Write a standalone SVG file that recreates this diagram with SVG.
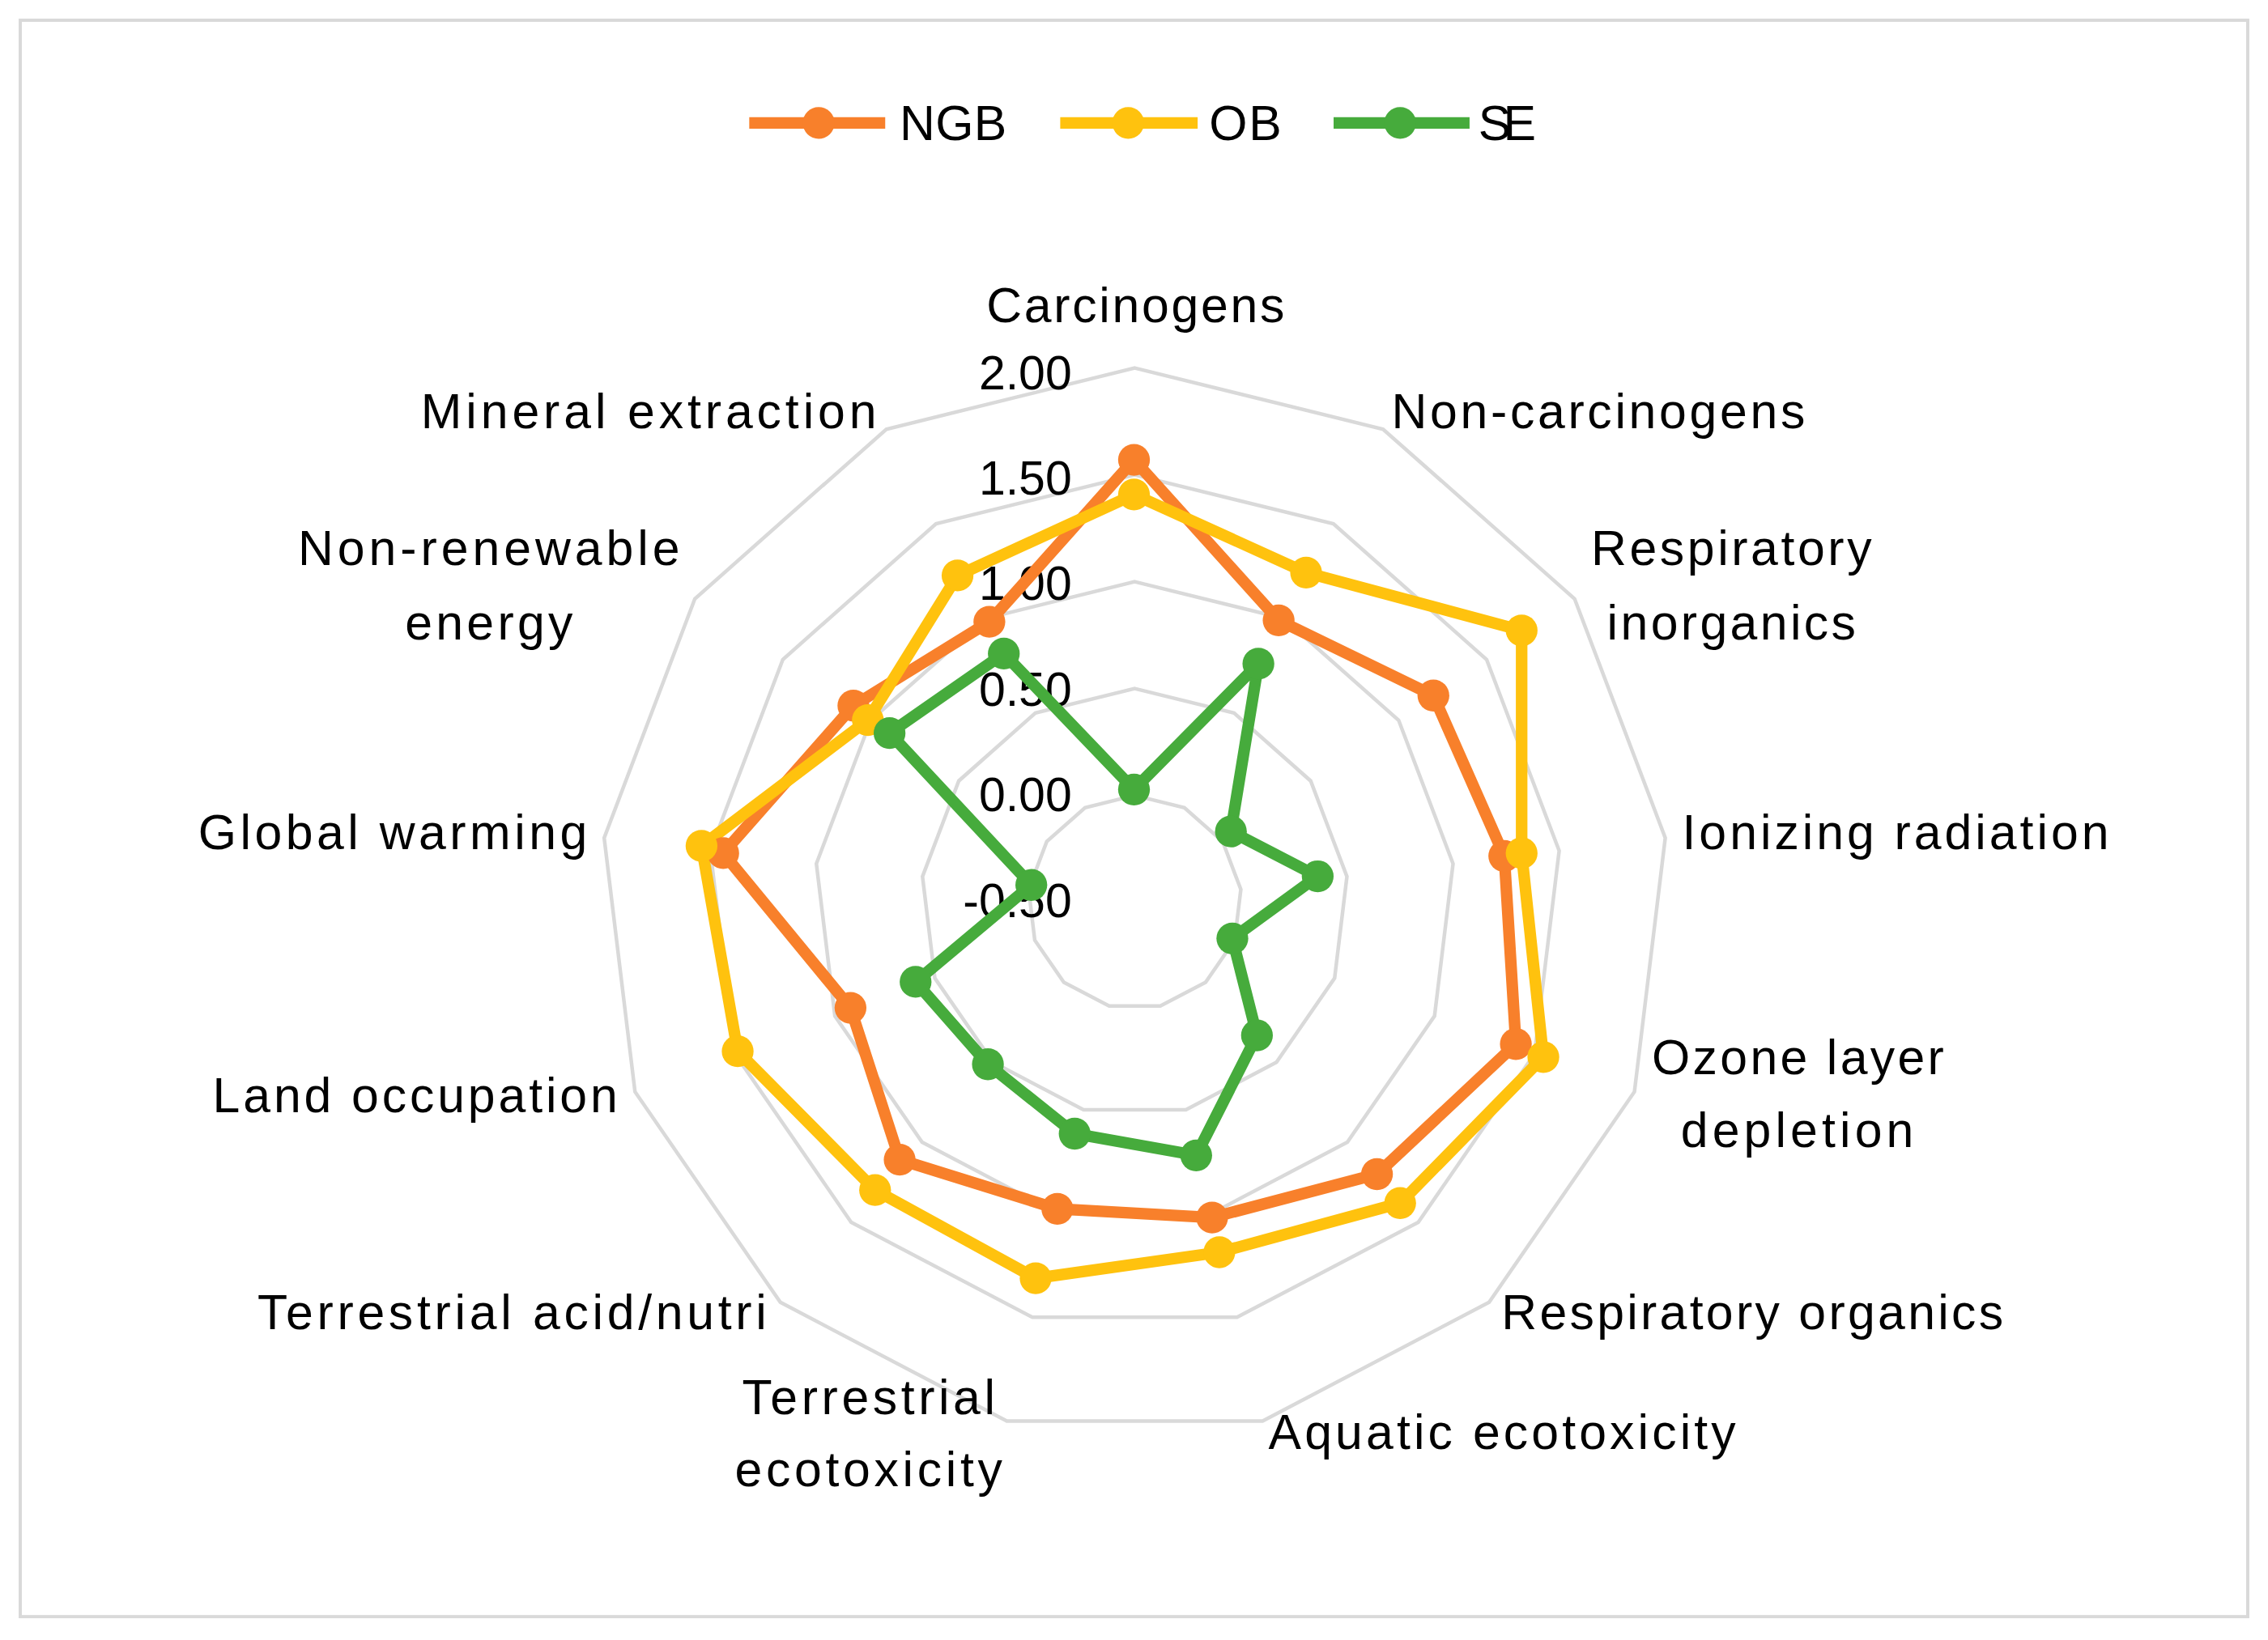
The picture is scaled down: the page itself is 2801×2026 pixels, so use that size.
<svg xmlns="http://www.w3.org/2000/svg" width="2801" height="2026" viewBox="0 0 2801 2026">
<style>
.ring{fill:none;stroke:#d9d9d9;stroke-width:4.5;stroke-linejoin:miter}
.lbl{font-family:"Liberation Sans",Arial,sans-serif;font-size:34px;fill:#000}
.ax{font-family:"Liberation Sans",Arial,sans-serif;font-size:33px;fill:#000;text-anchor:end}
.s{fill:none;stroke-width:8;stroke-linejoin:round}
.ngb{stroke:#F8802B}.ob{stroke:#FFC20E}.se{stroke:#46AB3C}
.mngb{fill:#F8802B}.mob{fill:#FFC20E}.mse{fill:#46AB3C}
</style>
<rect x="0" y="0" width="2801" height="2026" fill="#fff"/>
<g transform="scale(1.78635)">
<rect x="14" y="14" width="1540" height="1104" fill="none" stroke="#d9d9d9" stroke-width="2.2"/>
<g id="grid" transform="translate(784.5,624)">
<g class="ring">
<polygon vector-effect="non-scaling-stroke" transform="scale(3.695)" points="0,-100 46.47,-88.55 82.30,-56.81 99.27,-12.05 93.50,35.46 66.31,74.85 23.93,97.09 -23.93,97.09 -66.31,74.85 -93.50,35.46 -99.27,-12.05 -82.30,-56.81 -46.47,-88.55"/>
<polygon vector-effect="non-scaling-stroke" transform="scale(2.956)" points="0,-100 46.47,-88.55 82.30,-56.81 99.27,-12.05 93.50,35.46 66.31,74.85 23.93,97.09 -23.93,97.09 -66.31,74.85 -93.50,35.46 -99.27,-12.05 -82.30,-56.81 -46.47,-88.55"/>
<polygon vector-effect="non-scaling-stroke" transform="scale(2.217)" points="0,-100 46.47,-88.55 82.30,-56.81 99.27,-12.05 93.50,35.46 66.31,74.85 23.93,97.09 -23.93,97.09 -66.31,74.85 -93.50,35.46 -99.27,-12.05 -82.30,-56.81 -46.47,-88.55"/>
<polygon vector-effect="non-scaling-stroke" transform="scale(1.478)" points="0,-100 46.47,-88.55 82.30,-56.81 99.27,-12.05 93.50,35.46 66.31,74.85 23.93,97.09 -23.93,97.09 -66.31,74.85 -93.50,35.46 -99.27,-12.05 -82.30,-56.81 -46.47,-88.55"/>
<polygon vector-effect="non-scaling-stroke" transform="scale(0.739)" points="0,-100 46.47,-88.55 82.30,-56.81 99.27,-12.05 93.50,35.46 66.31,74.85 23.93,97.09 -23.93,97.09 -66.31,74.85 -93.50,35.46 -99.27,-12.05 -82.30,-56.81 -46.47,-88.55"/>
</g>
</g>
<g id="axis-labels">
<text class="ax" x="741" y="269">2.00</text>
<text class="ax" x="741" y="342">1.50</text>
<text class="ax" x="741" y="415">1.00</text>
<text class="ax" x="741" y="488">0.50</text>
<text class="ax" x="741" y="561">0.00</text>
<text class="ax" x="741" y="634">-0.50</text>
</g>
<g id="categories" class="lbl">
<text x="682" y="223" textLength="206">Carcinogens</text>
<text x="962" y="296" textLength="286">Non-carcinogens</text>
<text x="1100" y="391" textLength="194">Respiratory</text>
<text x="1111" y="442" textLength="172">inorganics</text>
<text x="1163" y="587" textLength="295">Ionizing radiation</text>
<text x="1142" y="743" textLength="202">Ozone layer</text>
<text x="1162" y="793" textLength="161">depletion</text>
<text x="1038" y="919" textLength="347">Respiratory organics</text>
<text x="877" y="1002" textLength="323">Aquatic ecotoxicity</text>
<text x="513" y="978" textLength="175">Terrestrial</text>
<text x="508" y="1028" textLength="185">ecotoxicity</text>
<text x="178" y="919" textLength="352">Terrestrial acid/nutri</text>
<text x="147" y="769" textLength="280">Land occupation</text>
<text x="137" y="587" textLength="269">Global warming</text>
<text x="206" y="391" textLength="264">Non-renewable</text>
<text x="280" y="442" textLength="116">energy</text>
<text x="291" y="296" textLength="315">Mineral extraction</text>
</g>
<g id="connectors">
<polygon class="s ngb" points="784,318 884,429 991,481 1040,592 1048,722 952,812 838,842 731,836 622,802 588,697 500,590 590,488 684,430"/>
<polygon class="s ob" points="784,342 903,396 1052,436 1052,590 1067,731 968,832 843,866 716,884 605,823 510,727 485,585 600,498 662,398"/>
<polygon class="s se" points="784,546 870,459 851,575 911,606 852,649 869,716 827,799 743,784 683,736 633,679 713,612 615,507 694,452"/>
</g>
<g id="NGB" class="mngb">
<circle cx="784" cy="318" r="11"/><circle cx="884" cy="429" r="11"/><circle cx="991" cy="481" r="11"/><circle cx="1040" cy="592" r="11"/><circle cx="1048" cy="722" r="11"/><circle cx="952" cy="812" r="11"/><circle cx="838" cy="842" r="11"/><circle cx="731" cy="836" r="11"/><circle cx="622" cy="802" r="11"/><circle cx="588" cy="697" r="11"/><circle cx="500" cy="590" r="11"/><circle cx="590" cy="488" r="11"/><circle cx="684" cy="430" r="11"/>
</g>
<g id="OB" class="mob">
<circle cx="784" cy="342" r="11"/><circle cx="903" cy="396" r="11"/><circle cx="1052" cy="436" r="11"/><circle cx="1052" cy="590" r="11"/><circle cx="1067" cy="731" r="11"/><circle cx="968" cy="832" r="11"/><circle cx="843" cy="866" r="11"/><circle cx="716" cy="884" r="11"/><circle cx="605" cy="823" r="11"/><circle cx="510" cy="727" r="11"/><circle cx="485" cy="585" r="11"/><circle cx="600" cy="498" r="11"/><circle cx="662" cy="398" r="11"/>
</g>
<g id="SE" class="mse">
<circle cx="784" cy="546" r="11"/><circle cx="870" cy="459" r="11"/><circle cx="851" cy="575" r="11"/><circle cx="911" cy="606" r="11"/><circle cx="852" cy="649" r="11"/><circle cx="869" cy="716" r="11"/><circle cx="827" cy="799" r="11"/><circle cx="743" cy="784" r="11"/><circle cx="683" cy="736" r="11"/><circle cx="633" cy="679" r="11"/><circle cx="713" cy="612" r="11"/><circle cx="615" cy="507" r="11"/><circle cx="694" cy="452" r="11"/>
</g>
<g id="legend">
<line x1="518" y1="85" x2="612" y2="85" class="s ngb"/><circle cx="566" cy="85" r="11" class="mngb"/>
<text class="lbl" x="622" y="97" textLength="74">NGB</text>
<line x1="733" y1="85" x2="828" y2="85" class="s ob"/><circle cx="780" cy="85" r="11" class="mob"/>
<text class="lbl" x="836" y="97" textLength="50">OB</text>
<line x1="922" y1="85" x2="1016" y2="85" class="s se"/><circle cx="968" cy="85" r="11" class="mse"/>
<text class="lbl" x="1022" y="97" textLength="40">SE</text>
</g>
</g>
</svg>
